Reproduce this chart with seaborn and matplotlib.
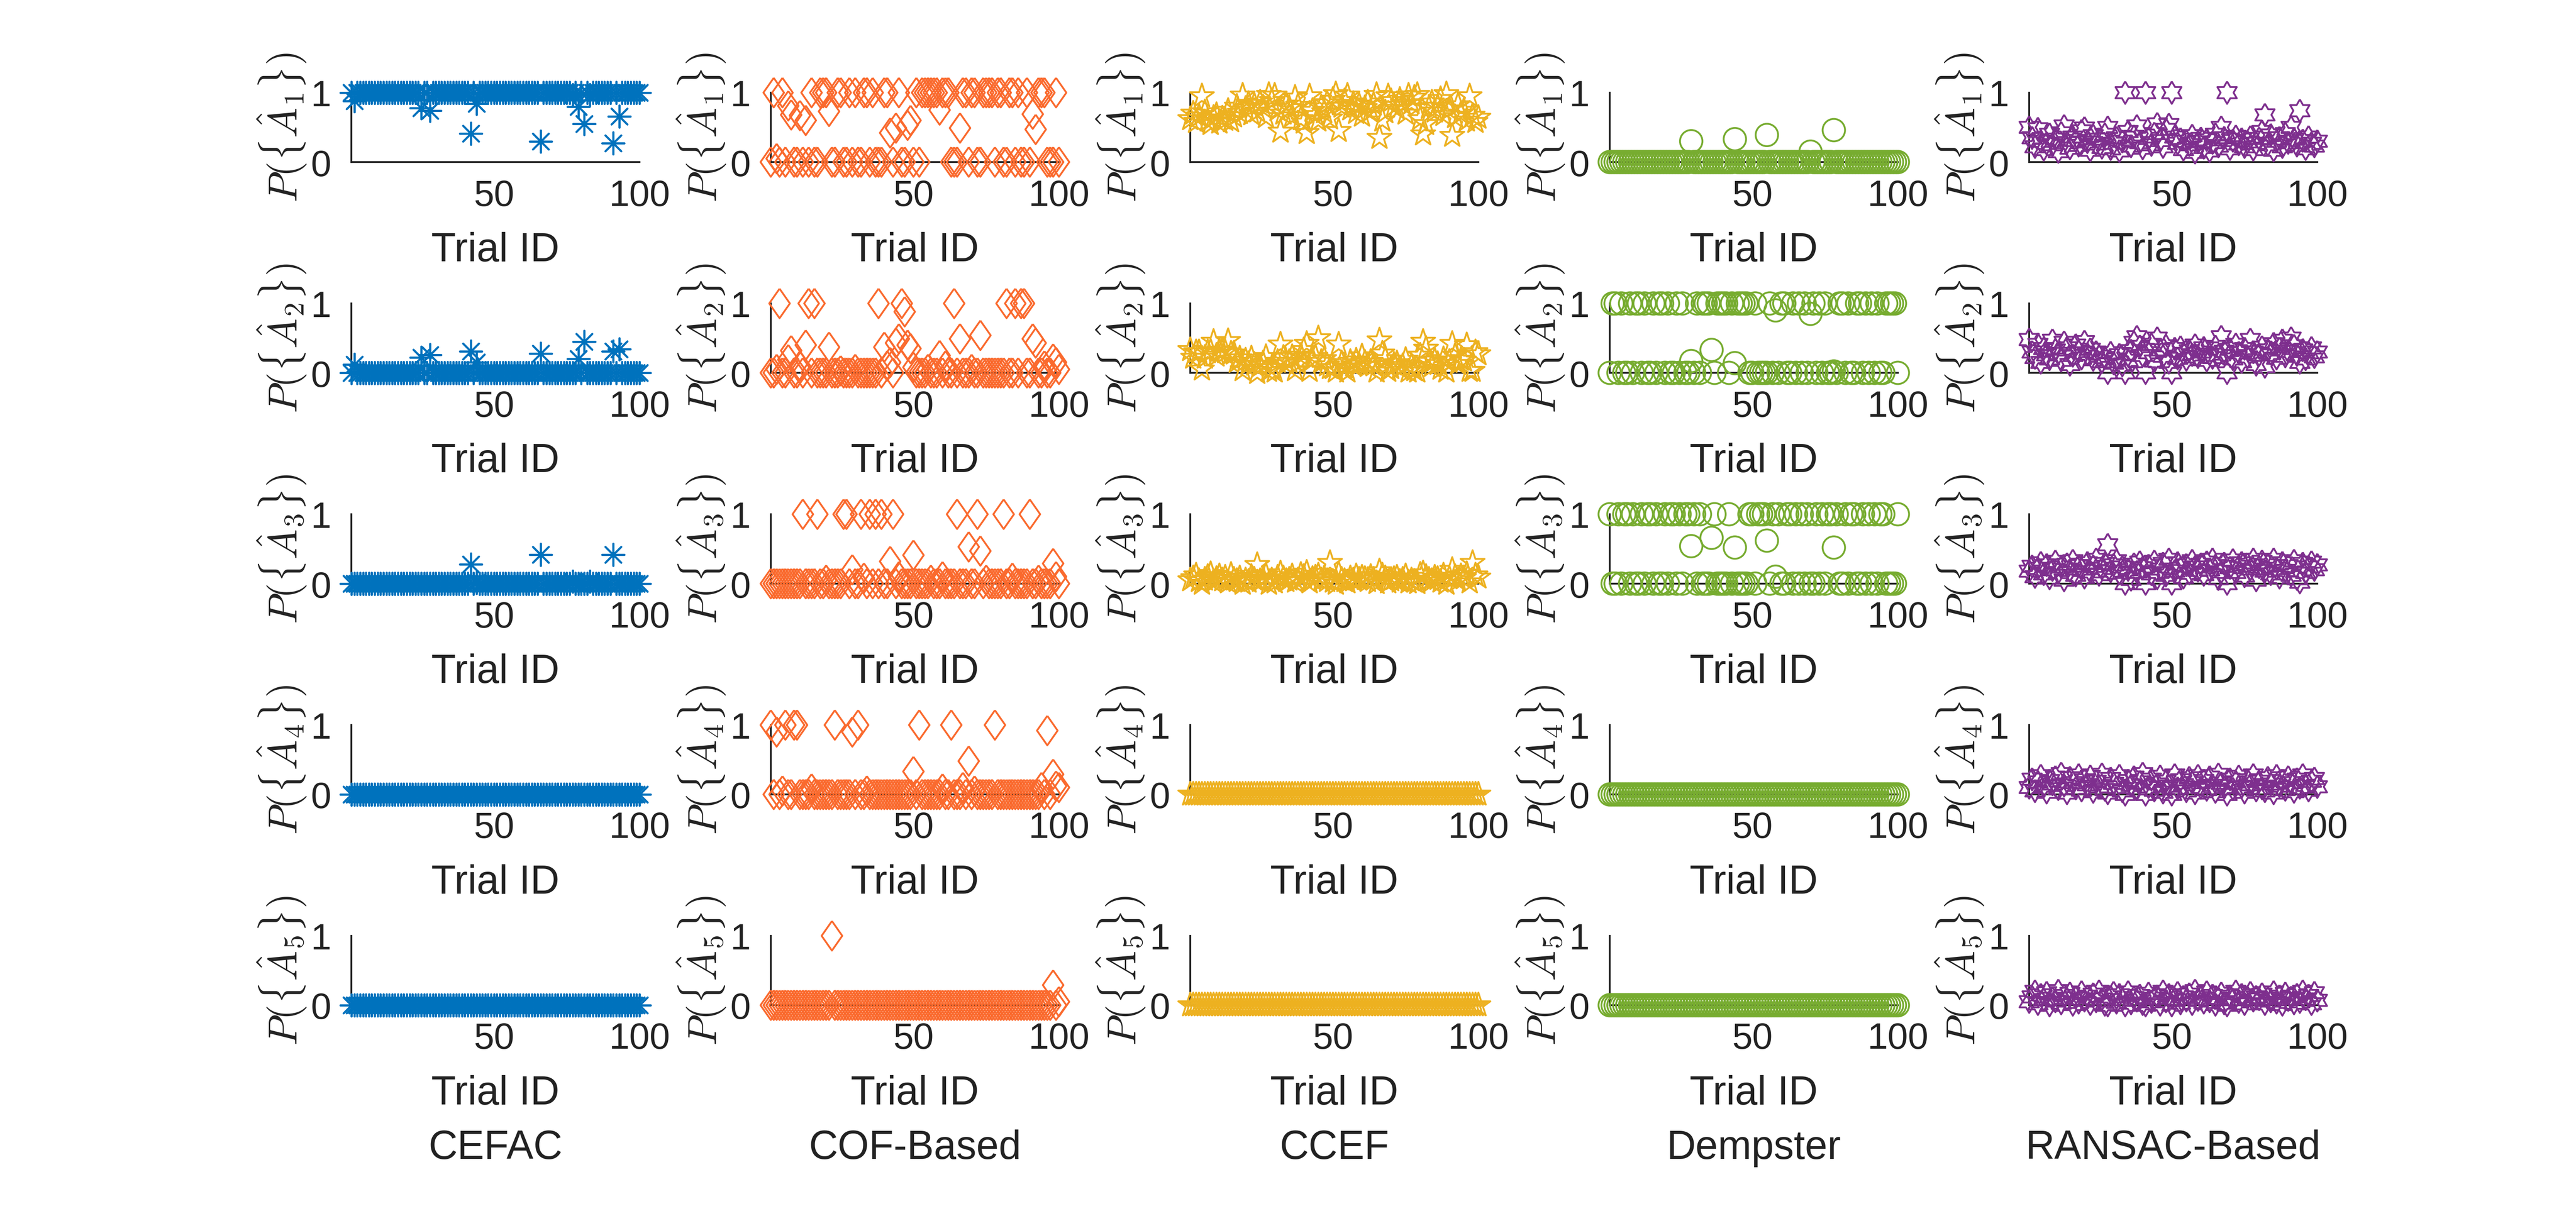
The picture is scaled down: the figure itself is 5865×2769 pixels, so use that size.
import numpy as np
import pandas as pd
import matplotlib
matplotlib.use("Agg")
import matplotlib.pyplot as plt
from matplotlib.markers import MarkerStyle
import seaborn as sns

# x axis: trial index, one value per trial and per hypothesis
trial_id = list(range(1, 101))
methods = ["CEFAC", "COF-Based", "CCEF", "Dempster", "RANSAC-Based"]

# ---------------- CEFAC ----------------
cefac_a1 = [1, 0.88, 1, 1, 1, 1, 1, 1, 1, 1, 1, 1, 1, 1, 1, 1, 1, 1, 1, 1,
            1, 1, 1, 1, 0.78, 1, 1, 0.74, 1, 1, 1, 1, 1, 1, 1, 1, 1, 1, 1, 1,
            1, 0.41, 1, 0.84, 1, 1, 1, 1, 1, 1, 1, 1, 1, 1, 1, 1, 1, 1, 1, 1,
            1, 1, 1, 1, 1, 0.30, 1, 1, 1, 1, 1, 1, 1, 1, 1, 1, 0.97, 1, 0.80, 1,
            0.55, 1, 0.97, 1, 1, 1, 1, 1, 1, 1, 0.27, 1, 0.66, 1, 1, 1, 1, 1, 1, 1]
cefac_a2 = [0, 0.12, 0, 0, 0, 0, 0, 0, 0, 0, 0, 0, 0, 0, 0, 0, 0, 0, 0, 0,
            0, 0, 0, 0, 0.22, 0, 0, 0.26, 0, 0, 0, 0, 0, 0, 0, 0, 0, 0, 0, 0,
            0, 0.31, 0, 0.15, 0, 0, 0, 0, 0, 0, 0, 0, 0, 0, 0, 0, 0, 0, 0, 0,
            0, 0, 0, 0, 0, 0.28, 0, 0, 0, 0, 0, 0, 0, 0, 0, 0, 0, 0, 0.20, 0,
            0.45, 0, 0, 0, 0, 0, 0, 0, 0, 0, 0.31, 0, 0.34, 0, 0, 0, 0, 0, 0, 0]
cefac_a3 = [0, 0, 0, 0, 0, 0, 0, 0, 0, 0, 0, 0, 0, 0, 0, 0, 0, 0, 0, 0,
            0, 0, 0, 0, 0, 0, 0, 0, 0, 0, 0, 0, 0, 0, 0, 0, 0, 0, 0, 0,
            0, 0.28, 0, 0.01, 0, 0, 0, 0, 0, 0, 0, 0, 0, 0, 0, 0, 0, 0, 0, 0,
            0, 0, 0, 0, 0, 0.42, 0, 0, 0, 0, 0, 0, 0, 0, 0, 0, 0.03, 0, 0, 0,
            0, 0, 0.03, 0, 0, 0, 0, 0, 0, 0, 0.42, 0, 0, 0, 0, 0, 0, 0, 0, 0]
cefac_a4 = [0, 0, 0, 0, 0, 0, 0, 0, 0, 0, 0, 0, 0, 0, 0, 0, 0, 0, 0, 0,
            0, 0, 0, 0, 0, 0, 0, 0, 0, 0, 0, 0, 0, 0, 0, 0, 0, 0, 0, 0,
            0, 0, 0, 0, 0, 0, 0, 0, 0, 0, 0, 0, 0, 0, 0, 0, 0, 0, 0, 0,
            0, 0, 0, 0, 0, 0, 0, 0, 0, 0, 0, 0, 0, 0, 0, 0, 0, 0, 0, 0,
            0, 0, 0, 0, 0, 0, 0, 0, 0, 0, 0, 0, 0, 0, 0, 0, 0, 0, 0, 0]
cefac_a5 = [0, 0, 0, 0, 0, 0, 0, 0, 0, 0, 0, 0, 0, 0, 0, 0, 0, 0, 0, 0,
            0, 0, 0, 0, 0, 0, 0, 0, 0, 0, 0, 0, 0, 0, 0, 0, 0, 0, 0, 0,
            0, 0, 0, 0, 0, 0, 0, 0, 0, 0, 0, 0, 0, 0, 0, 0, 0, 0, 0, 0,
            0, 0, 0, 0, 0, 0, 0, 0, 0, 0, 0, 0, 0, 0, 0, 0, 0, 0, 0, 0,
            0, 0, 0, 0, 0, 0, 0, 0, 0, 0, 0, 0, 0, 0, 0, 0, 0, 0, 0, 0]

# ---------------- COF-Based ----------------
cof_a1 = [0, 1, 0.05, 0, 1, 0, 0.81, 0.68, 0, 0, 0.67, 0, 0.60, 0, 1, 0, 0, 1, 1, 1,
          0.73, 0, 0, 1, 1, 0, 0, 1, 0, 1, 0, 0, 1, 1, 0, 1, 0, 0, 0, 1,
          1, 0.42, 0, 0.49, 1, 0, 0, 0.53, 0.60, 0, 1, 0, 1, 1, 1, 1, 1, 1, 0.75, 1,
          1, 1, 0, 0, 0, 0.49, 1, 1, 0, 1, 1, 0, 0, 1, 1, 1, 1, 0, 1, 1,
          0, 0, 1, 1, 0, 1, 0, 0, 1, 0, 0.69, 0.47, 1, 1, 1, 0, 0, 0, 1, 0]
cof_a2 = [0, 0, 0.05, 1, 0, 0, 0.19, 0.32, 0, 0, 0.10, 0, 0.40, 1, 0, 1, 0, 0, 0, 0,
          0.37, 0, 0, 0, 0.03, 0, 0, 0, 0, 0.05, 0, 0, 0, 0, 0, 0, 0, 1, 0, 0.37,
          0.10, 0.15, 0, 0.43, 0.49, 1, 0.88, 0.40, 0.35, 0.08, 0, 0, 0, 0, 0.05, 0, 0, 0, 0.25, 0,
          0.10, 0, 0, 1, 0, 0.49, 0, 0, 0, 0.05, 0, 0, 0.54, 0, 0, 0, 0, 0, 0, 0,
          0, 1, 0, 0, 1, 0, 1, 1, 0, 0, 0.49, 0.43, 0, 0, 0.10, 0, 0, 0.20, 0.15, 0.05]
cof_a3 = [0, 0, 0, 0, 0, 0, 0, 0, 0, 0, 0, 1, 0, 0, 0, 0, 1, 0, 0, 0.05,
          0, 0, 0, 0, 0, 1, 1, 0, 0.20, 0, 0, 1, 0.08, 0, 1, 0, 1, 0, 1, 0,
          0, 0.32, 1, 0, 0.10, 0, 0, 0, 0, 0.41, 0, 0, 0, 0, 0, 0.05, 0, 0, 0, 0.10,
          0, 0, 0, 0, 1, 0, 0, 0, 0.53, 0, 0, 1, 0.47, 0, 0.05, 0, 0, 0, 0, 0,
          1, 0, 0, 0.08, 0, 0, 0, 0, 0, 1, 0, 0, 0.05, 0, 0, 0, 0, 0.29, 0.10, 0]
cof_a4 = [1, 0, 0.90, 0, 0.05, 1, 0, 0, 1, 1, 0, 0, 0, 0, 0.08, 0, 0, 0, 0, 0,
          0, 0, 1, 0, 0, 0, 0, 0, 0.90, 0, 1, 0, 0, 0.05, 0, 0, 0, 0, 0, 0,
          0, 0, 0, 0, 0, 0, 0, 0, 0, 0.33, 0, 1, 0, 0, 0, 0, 0, 0, 0, 0.08,
          0, 0, 1, 0, 0, 0, 0.10, 0, 0.48, 0, 0.05, 0, 0, 0, 0, 0, 0, 1, 0, 0,
          0, 0, 0, 0, 0, 0, 0, 0, 0, 0, 0, 0, 0, 0.10, 0, 0.92, 0, 0.29, 0.12, 0.10]
cof_a5 = [0, 0, 0, 0, 0, 0, 0, 0, 0, 0, 0, 0, 0, 0, 0, 0, 0, 0, 0, 0,
          0, 1, 0, 0, 0, 0, 0, 0, 0, 0, 0, 0, 0, 0, 0, 0, 0, 0, 0, 0,
          0, 0, 0, 0, 0, 0, 0, 0, 0, 0, 0, 0, 0, 0, 0, 0, 0, 0, 0, 0,
          0, 0, 0, 0, 0, 0, 0, 0, 0, 0, 0, 0, 0, 0, 0, 0, 0, 0, 0, 0,
          0, 0, 0, 0, 0, 0, 0, 0, 0, 0, 0, 0, 0, 0, 0, 0, 0, 0.29, 0, 0.05]

# ---------------- CCEF ----------------
ccef_a1 = [0.62, 0.70, 0.58, 0.66, 0.95, 0.72, 0.60, 0.55, 0.64, 0.68, 0.57, 0.63, 0.61, 0.74, 0.59, 0.66, 0.80, 0.71, 0.96, 0.77,
           0.84, 0.69, 0.82, 0.73, 0.86, 0.79, 0.65, 0.97, 0.88, 0.96, 0.75, 0.44, 0.70, 0.83, 0.78, 0.66, 0.93, 0.81, 0.62, 0.57,
           0.42, 0.95, 0.74, 0.68, 0.60, 0.79, 0.72, 0.85, 0.63, 0.90, 0.98, 0.45, 0.80, 0.88, 0.96, 0.76, 0.84, 0.71, 0.82, 0.67,
           0.78, 0.86, 0.74, 0.83, 0.97, 0.35, 0.60, 0.72, 0.95, 0.88, 0.81, 0.77, 0.90, 0.84, 0.70, 0.96, 0.85, 0.93, 0.97, 0.62,
           0.40, 0.55, 0.78, 0.86, 0.73, 0.80, 0.91, 0.68, 0.98, 0.76, 0.38, 0.65, 0.82, 0.70, 0.74, 0.60, 0.95, 0.67, 0.58, 0.64]
ccef_a2 = [0.33, 0.22, 0.30, 0.30, 0.05, 0.22, 0.30, 0.31, 0.45, 0.25, 0.32, 0.32, 0.30, 0.46, 0.28, 0.28, 0.16, 0.21, 0.04, 0.18,
           0.13, 0.21, 0.12, 0.00, 0.10, 0.14, 0.23, 0.03, 0.07, 0.02, 0.16, 0.41, 0.22, 0.13, 0.16, 0.23, 0.04, 0.14, 0.25, 0.33,
           0.42, 0.03, 0.19, 0.23, 0.50, 0.16, 0.20, 0.11, 0.07, 0.07, 0.02, 0.41, 0.14, 0.08, 0.02, 0.16, 0.11, 0.18, 0.12, 0.24,
           0.15, 0.10, 0.16, 0.11, 0.02, 0.47, 0.28, 0.20, 0.03, 0.07, 0.12, 0.14, 0.07, 0.10, 0.19, 0.02, 0.10, 0.04, 0.02, 0.25,
           0.45, 0.35, 0.16, 0.10, 0.18, 0.13, 0.06, 0.20, 0.02, 0.16, 0.42, 0.25, 0.13, 0.19, 0.18, 0.40, 0.03, 0.03, 0.30, 0.27]
ccef_a3 = [0.05, 0.08, 0.12, 0.04, 0.00, 0.06, 0.10, 0.14, 0.03, 0.07, 0.11, 0.05, 0.09, 0.02, 0.13, 0.06, 0.04, 0.08, 0.00, 0.05,
           0.03, 0.10, 0.06, 0.27, 0.04, 0.07, 0.12, 0.00, 0.05, 0.02, 0.09, 0.15, 0.08, 0.04, 0.06, 0.11, 0.03, 0.05, 0.13, 0.10,
           0.16, 0.02, 0.07, 0.09, 0.12, 0.05, 0.08, 0.04, 0.30, 0.03, 0.00, 0.14, 0.06, 0.04, 0.02, 0.08, 0.05, 0.11, 0.06, 0.09,
           0.07, 0.04, 0.10, 0.06, 0.01, 0.18, 0.12, 0.08, 0.02, 0.05, 0.07, 0.09, 0.03, 0.06, 0.11, 0.02, 0.05, 0.03, 0.01, 0.13,
           0.15, 0.10, 0.06, 0.04, 0.09, 0.07, 0.03, 0.12, 0.00, 0.08, 0.20, 0.10, 0.05, 0.11, 0.08, 0.14, 0.02, 0.30, 0.12, 0.09]
ccef_a4 = [0, 0, 0, 0, 0, 0, 0, 0, 0, 0, 0, 0, 0, 0, 0, 0, 0, 0, 0, 0,
           0, 0, 0, 0, 0, 0, 0, 0, 0, 0, 0, 0, 0, 0, 0, 0, 0, 0, 0, 0,
           0, 0, 0, 0, 0, 0, 0, 0, 0, 0, 0, 0, 0, 0, 0, 0, 0, 0, 0, 0,
           0, 0, 0, 0, 0, 0, 0, 0, 0, 0, 0, 0, 0, 0, 0, 0, 0, 0, 0, 0,
           0, 0, 0, 0, 0, 0, 0, 0, 0, 0, 0, 0, 0, 0, 0, 0, 0, 0, 0, 0]
ccef_a5 = [0, 0, 0, 0, 0, 0, 0, 0, 0, 0, 0, 0, 0, 0, 0, 0, 0, 0, 0, 0,
           0, 0, 0, 0, 0, 0, 0, 0, 0, 0, 0, 0, 0, 0, 0, 0, 0, 0, 0, 0,
           0, 0, 0, 0, 0, 0, 0, 0, 0, 0, 0, 0, 0, 0, 0, 0, 0, 0, 0, 0,
           0, 0, 0, 0, 0, 0, 0, 0, 0, 0, 0, 0, 0, 0, 0, 0, 0, 0, 0, 0,
           0, 0, 0, 0, 0, 0, 0, 0, 0, 0, 0, 0, 0, 0, 0, 0, 0, 0, 0, 0]

# ---------------- Dempster ----------------
dempster_a1 = [0, 0, 0, 0, 0, 0, 0, 0, 0, 0, 0, 0, 0, 0, 0, 0, 0, 0, 0, 0,
               0, 0, 0, 0, 0, 0, 0, 0, 0.30, 0, 0, 0, 0, 0, 0, 0, 0, 0, 0, 0,
               0, 0, 0, 0.33, 0, 0, 0, 0, 0, 0, 0, 0, 0, 0, 0.39, 0, 0, 0, 0, 0,
               0, 0, 0, 0, 0, 0, 0, 0, 0, 0.15, 0, 0, 0, 0, 0, 0, 0, 0.46, 0, 0,
               0, 0, 0, 0, 0, 0, 0, 0, 0, 0, 0, 0, 0, 0, 0, 0, 0, 0, 0, 0]
dempster_a2 = [0, 1, 1, 0, 1, 0, 0, 1, 0, 1, 1, 0, 1, 0, 0, 1, 0, 1, 1, 0,
               1, 0, 0, 1, 0, 1, 0, 0, 0.17, 0, 1, 0, 1, 1, 1, 0.33, 0, 1, 1, 1,
               1, 0, 1, 0.14, 1, 1, 1, 1, 0, 0, 1, 0, 0, 0, 0, 1, 0, 0.90, 0, 1,
               1, 0, 0, 1, 0, 1, 0, 1, 0, 0.85, 1, 0, 1, 0, 1, 0, 0, 0.02, 0, 1,
               1, 0, 1, 0, 0, 1, 1, 0, 1, 0, 1, 0, 1, 0, 0, 1, 1, 1, 1, 0]
dempster_a3 = [1, 0, 0, 1, 0, 1, 1, 0, 1, 0, 0, 1, 0, 1, 1, 0, 1, 0, 0, 1,
               0, 1, 1, 0, 1, 0, 1, 1, 0.54, 1, 0, 1, 0, 0, 0, 0.66, 1, 0, 0, 0,
               0, 1, 0, 0.52, 0, 0, 0, 0, 1, 1, 0, 1, 1, 1, 0.62, 0, 1, 0.10, 1, 0,
               0, 1, 1, 0, 1, 0, 1, 0, 1, 0, 0, 1, 0, 1, 0, 1, 1, 0.52, 1, 0,
               0, 1, 0, 1, 1, 0, 0, 1, 0, 1, 0, 1, 0, 1, 1, 0, 0, 0, 0, 1]
dempster_a4 = [0, 0, 0, 0, 0, 0, 0, 0, 0, 0, 0, 0, 0, 0, 0, 0, 0, 0, 0, 0,
               0, 0, 0, 0, 0, 0, 0, 0, 0, 0, 0, 0, 0, 0, 0, 0, 0, 0, 0, 0,
               0, 0, 0, 0, 0, 0, 0, 0, 0, 0, 0, 0, 0, 0, 0, 0, 0, 0, 0, 0,
               0, 0, 0, 0, 0, 0, 0, 0, 0, 0, 0, 0, 0, 0, 0, 0, 0, 0, 0, 0,
               0, 0, 0, 0, 0, 0, 0, 0, 0, 0, 0, 0, 0, 0, 0, 0, 0, 0, 0, 0]
dempster_a5 = [0, 0, 0, 0, 0, 0, 0, 0, 0, 0, 0, 0, 0, 0, 0, 0, 0, 0, 0, 0,
               0, 0, 0, 0, 0, 0, 0, 0, 0, 0, 0, 0, 0, 0, 0, 0, 0, 0, 0, 0,
               0, 0, 0, 0, 0, 0, 0, 0, 0, 0, 0, 0, 0, 0, 0, 0, 0, 0, 0, 0,
               0, 0, 0, 0, 0, 0, 0, 0, 0, 0, 0, 0, 0, 0, 0, 0, 0, 0, 0, 0,
               0, 0, 0, 0, 0, 0, 0, 0, 0, 0, 0, 0, 0, 0, 0, 0, 0, 0, 0, 0]

# ---------------- RANSAC-Based ----------------
ransac_a1 = [0.50, 0.35, 0.22, 0.48, 0.30, 0.18, 0.27, 0.40, 0.25, 0.33, 0.15, 0.42, 0.52, 0.28, 0.20, 0.36, 0.31, 0.24, 0.45, 0.49,
             0.29, 0.17, 0.38, 0.26, 0.33, 0.21, 0.40, 0.50, 0.19, 0.27, 0.35, 0.16, 0.30, 1.00, 0.44, 0.23, 0.37, 0.52, 0.28, 0.20,
             1.00, 0.34, 0.25, 0.41, 0.55, 0.31, 0.22, 0.47, 0.54, 1.00, 0.36, 0.27, 0.33, 0.18, 0.30, 0.25, 0.38, 0.14, 0.29, 0.34,
             0.21, 0.32, 0.16, 0.28, 0.40, 0.23, 0.50, 0.35, 1.00, 0.19, 0.31, 0.37, 0.26, 0.33, 0.22, 0.29, 0.36, 0.18, 0.27, 0.34,
             0.44, 0.68, 0.25, 0.39, 0.17, 0.30, 0.35, 0.22, 0.41, 0.28, 0.50, 0.33, 0.24, 0.74, 0.31, 0.19, 0.36, 0.27, 0.23, 0.30]
ransac_a2 = [0.48, 0.30, 0.22, 0.41, 0.15, 0.35, 0.26, 0.20, 0.47, 0.33, 0.28, 0.18, 0.44, 0.36, 0.12, 0.25, 0.40, 0.31, 0.21, 0.45,
             0.27, 0.34, 0.19, 0.30, 0.24, 0.16, 0.22, 0.00, 0.29, 0.14, 0.20, 0.26, 0.11, 0.00, 0.18, 0.32, 0.44, 0.52, 0.38, 0.25,
             0.00, 0.29, 0.41, 0.17, 0.50, 0.33, 0.24, 0.39, 0.15, 0.00, 0.35, 0.21, 0.37, 0.28, 0.19, 0.32, 0.26, 0.40, 0.23, 0.30,
             0.36, 0.18, 0.27, 0.22, 0.38, 0.25, 0.52, 0.31, 0.00, 0.34, 0.20, 0.41, 0.29, 0.16, 0.35, 0.23, 0.48, 0.30, 0.12, 0.26,
             0.37, 0.09, 0.33, 0.28, 0.42, 0.21, 0.35, 0.47, 0.24, 0.31, 0.50, 0.39, 0.26, 0.15, 0.33, 0.20, 0.29, 0.36, 0.23, 0.30]
ransac_a3 = [0.18, 0.25, 0.10, 0.22, 0.30, 0.14, 0.27, 0.08, 0.20, 0.32, 0.16, 0.24, 0.05, 0.28, 0.19, 0.33, 0.12, 0.26, 0.21, 0.09,
             0.30, 0.17, 0.25, 0.35, 0.13, 0.22, 0.29, 0.56, 0.18, 0.27, 0.33, 0.15, 0.24, 0.00, 0.20, 0.06, 0.28, 0.17, 0.31, 0.23,
             0.00, 0.26, 0.14, 0.32, 0.08, 0.21, 0.29, 0.12, 0.35, 0.00, 0.18, 0.30, 0.22, 0.09, 0.27, 0.15, 0.33, 0.24, 0.19, 0.28,
             0.13, 0.31, 0.20, 0.35, 0.26, 0.07, 0.17, 0.29, 0.00, 0.23, 0.34, 0.16, 0.25, 0.30, 0.11, 0.28, 0.21, 0.35, 0.05, 0.24,
             0.32, 0.18, 0.27, 0.14, 0.35, 0.22, 0.09, 0.30, 0.19, 0.26, 0.12, 0.33, 0.07, 0.02, 0.29, 0.16, 0.24, 0.31, 0.20, 0.27]
ransac_a4 = [0.10, 0.22, 0.05, 0.18, 0.27, 0.12, 0.03, 0.20, 0.15, 0.25, 0.08, 0.30, 0.13, 0.02, 0.24, 0.17, 0.09, 0.28, 0.06, 0.21,
             0.14, 0.26, 0.04, 0.19, 0.11, 0.29, 0.07, 0.02, 0.23, 0.16, 0.10, 0.27, 0.05, 0.00, 0.20, 0.13, 0.25, 0.08, 0.18, 0.30,
             0.00, 0.11, 0.22, 0.06, 0.15, 0.26, 0.03, 0.19, 0.12, 0.00, 0.28, 0.09, 0.21, 0.14, 0.05, 0.24, 0.17, 0.02, 0.27, 0.10,
             0.20, 0.07, 0.25, 0.13, 0.04, 0.29, 0.16, 0.10, 0.00, 0.22, 0.08, 0.18, 0.26, 0.11, 0.03, 0.21, 0.14, 0.28, 0.06, 0.19,
             0.09, 0.05, 0.24, 0.15, 0.02, 0.27, 0.12, 0.20, 0.07, 0.25, 0.17, 0.04, 0.22, 0.10, 0.28, 0.13, 0.06, 0.19, 0.23, 0.11]
ransac_a5 = [0.05, 0.12, 0.20, 0.02, 0.15, 0.08, 0.18, 0.00, 0.10, 0.06, 0.21, 0.03, 0.14, 0.09, 0.17, 0.01, 0.11, 0.04, 0.19, 0.07,
             0.13, 0.02, 0.16, 0.06, 0.20, 0.09, 0.01, 0.00, 0.12, 0.18, 0.04, 0.15, 0.08, 0.00, 0.19, 0.03, 0.11, 0.07, 0.14, 0.02,
             0.00, 0.17, 0.05, 0.10, 0.13, 0.01, 0.20, 0.06, 0.15, 0.00, 0.09, 0.18, 0.03, 0.12, 0.07, 0.16, 0.02, 0.21, 0.08, 0.11,
             0.04, 0.19, 0.06, 0.14, 0.01, 0.10, 0.17, 0.03, 0.00, 0.13, 0.08, 0.20, 0.05, 0.15, 0.02, 0.11, 0.18, 0.07, 0.12, 0.09,
             0.16, 0.02, 0.10, 0.06, 0.19, 0.04, 0.13, 0.01, 0.17, 0.08, 0.11, 0.03, 0.15, 0.05, 0.20, 0.09, 0.14, 0.02, 0.18, 0.07]

series = {
    "CEFAC": [cefac_a1, cefac_a2, cefac_a3, cefac_a4, cefac_a5],
    "COF-Based": [cof_a1, cof_a2, cof_a3, cof_a4, cof_a5],
    "CCEF": [ccef_a1, ccef_a2, ccef_a3, ccef_a4, ccef_a5],
    "Dempster": [dempster_a1, dempster_a2, dempster_a3, dempster_a4, dempster_a5],
    "RANSAC-Based": [ransac_a1, ransac_a2, ransac_a3, ransac_a4, ransac_a5],
}
for name in methods:
    for arr in series[name]:
        assert len(arr) == 100, (name, len(arr))

colors = {
    "CEFAC": "#0072BD",
    "COF-Based": "#FA6A2E",
    "CCEF": "#EDB120",
    "Dempster": "#77AC30",
    "RANSAC-Based": "#7E2F8E",
}

# matlab-like markers
ang = np.pi / 2 + np.arange(13) * np.pi / 6
rad = np.where(np.arange(13) % 2 == 0, 1.0, 1 / np.sqrt(3))
hexagram = MarkerStyle(list(zip(rad * np.cos(ang), rad * np.sin(ang))))
diamond = MarkerStyle([(0, 1), (0.7, 0), (0, -1), (-0.7, 0), (0, 1)])
asterisk = MarkerStyle((8, 2, 0))

markers = {
    "CEFAC": (asterisk, 150, False),
    "COF-Based": (diamond, 260, True),
    "CCEF": ("*", 190, True),
    "Dempster": ("o", 150, True),
    "RANSAC-Based": (hexagram, 150, True),
}

sns.set_theme(style="white")
plt.rcParams["font.family"] = ["Liberation Sans", "DejaVu Sans"]
plt.rcParams["mathtext.fontset"] = "cm"
ink = "#222222"

W, H = 5865, 2770
fig = plt.figure(figsize=(W / 300, H / 300), dpi=300)

for c, name in enumerate(methods):
    x0 = 800 + 955 * c
    m, size, filled = markers[name]
    col = colors[name]
    for r in range(5):
        ax = fig.add_axes([x0 / W, (H - 370 - 480 * r) / H, 656 / W, 158 / H])
        df = pd.DataFrame({"trial": trial_id, "p": series[name][r]})
        kws = dict(marker=m, s=size, linewidth=1.0, color=col,
                   clip_on=False, zorder=3, legend=False)
        if filled:
            kws.update(facecolor="none", edgecolor=col)
        sns.scatterplot(data=df, x="trial", y="p", ax=ax, **kws)

        ax.set_xlim(1, 100)
        ax.set_ylim(0, 1)
        ax.set_xticks([50, 100])
        ax.set_yticks([0, 1])
        sns.despine(ax=ax)
        for sp in ["left", "bottom"]:
            ax.spines[sp].set_color(ink)
            ax.spines[sp].set_linewidth(1.0)
        ax.tick_params(direction="in", length=2.5, width=1.0, colors=ink, labelsize=20)
        ax.tick_params(axis="x", pad=9)
        ax.tick_params(axis="y", pad=11)

        ax.set_xlabel("Trial ID", fontsize=22, color=ink)
        ax.xaxis.set_label_coords(0.5, -1.27)
        ax.xaxis.label.set_va("center")
        ax.set_ylabel(r"$P(\{\hat{A}_{%d}\})$" % (r + 1), fontsize=22, color=ink)
        ax.yaxis.set_label_coords(-0.241, 0.5)
        ax.yaxis.label.set_va("center")

    fig.text((x0 + 328) / W, 1 - 2615 / H, name, ha="center", va="center",
             fontsize=22, color=ink)

fig.savefig("out.png", dpi=300, facecolor="white")
